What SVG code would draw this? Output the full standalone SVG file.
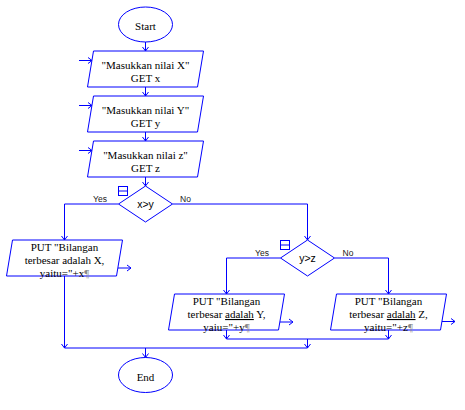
<svg xmlns="http://www.w3.org/2000/svg" width="465" height="410" viewBox="0 0 465 410">
<style>
.sh{fill:#fff;stroke:#0000ff;stroke-width:1}
.ln{fill:none;stroke:#0000ff;stroke-width:1}
.t{font-family:"Liberation Serif","Times New Roman",serif;font-size:11px;fill:#000;text-anchor:middle}
.s{font-family:"Liberation Sans",Arial,sans-serif;font-size:10.5px;fill:#000;text-anchor:middle}
.lb{font-family:"Liberation Sans",Arial,sans-serif;font-size:8.5px;fill:#222;text-anchor:middle}
.pc{fill:#888}
.u{text-decoration:underline}
</style>
<defs>
<marker id="ah" markerUnits="userSpaceOnUse" markerWidth="10" markerHeight="10" refX="0" refY="0" viewBox="-5 -5 10 10" orient="auto" overflow="visible">
<path d="M-4,-3 L0,0 L-4,3" fill="none" stroke="#0000ff" stroke-width="1"/>
</marker>
</defs>
<rect width="465" height="410" fill="#fff"/>
<g id="connectors">
<path class="ln" d="M145.5,42 V51" marker-end="url(#ah)"/>
<path class="ln" d="M145.5,87 V96" marker-end="url(#ah)"/>
<path class="ln" d="M145.5,132 V141" marker-end="url(#ah)"/>
<path class="ln" d="M145.5,177 V186" marker-end="url(#ah)"/>
<path class="ln" d="M118.5,204 H64.5 V240" marker-end="url(#ah)"/>
<path class="ln" d="M172.5,204 H307.5 V240" marker-end="url(#ah)"/>
<path class="ln" d="M280.5,258 H226.5 V294" marker-end="url(#ah)"/>
<path class="ln" d="M334.5,258 H388.5 V294" marker-end="url(#ah)"/>
<path class="ln" d="M64.5,276 V348" marker-end="url(#ah)"/>
<path class="ln" d="M226.5,330 V339" marker-end="url(#ah)"/>
<path class="ln" d="M388.5,330 V339" marker-end="url(#ah)"/>
<path class="ln" d="M226.5,339 H388.5"/>
<path class="ln" d="M307.5,339 V348" marker-end="url(#ah)"/>
<path class="ln" d="M64.5,348 H307.5"/>
<path class="ln" d="M145.5,348 V357.5" marker-end="url(#ah)"/>
<path class="ln" d="M79,60.5 H92" marker-end="url(#ah)"/>
<path class="ln" d="M79,105.5 H92" marker-end="url(#ah)"/>
<path class="ln" d="M79,150.5 H92" marker-end="url(#ah)"/>
<path class="ln" d="M118,268 H131" marker-end="url(#ah)"/>
<path class="ln" d="M280,322 H293" marker-end="url(#ah)"/>
<path class="ln" d="M442,321.5 H455" marker-end="url(#ah)"/>
<text class="lb" x="100" y="202">Yes</text>
<text class="lb" x="185.5" y="202">No</text>
<text class="lb" x="262" y="256">Yes</text>
<text class="lb" x="348" y="256">No</text>
</g>
<g id="start">
<ellipse class="sh" cx="145.5" cy="24.5" rx="27" ry="17.5"/>
<text class="t" x="145.5" y="30">Start</text>
</g>
<g id="inputX">
<polygon class="sh" points="93.5,51 203.5,51 197.5,87 87.5,87"/>
<text class="t" x="145.5" y="69">"Masukkan nilai X"</text>
<text class="t" x="145.5" y="82">GET x</text>
</g>
<g id="inputY">
<polygon class="sh" points="93.5,96 203.5,96 197.5,132 87.5,132"/>
<text class="t" x="145.5" y="114">"Masukkan nilai Y"</text>
<text class="t" x="145.5" y="127">GET y</text>
</g>
<g id="inputZ">
<polygon class="sh" points="93.5,141 203.5,141 197.5,177 87.5,177"/>
<text class="t" x="145.5" y="159">"Masukkan nilai z"</text>
<text class="t" x="145.5" y="172">GET z</text>
</g>
<g id="decisionXY">
<polygon class="sh" points="145.5,186 172.5,204 145.5,222 118.5,204"/>
<text class="s" x="145.5" y="208">x&gt;y</text>
<rect class="ln" x="118.5" y="186.5" width="9" height="9"/>
<path class="ln" d="M118.5,191 H127.5"/>
</g>
<g id="putX">
<polygon class="sh" points="12.5,240 122.5,240 116.5,276 6.5,276"/>
<text class="t" x="64.5" y="251">PUT "Bilangan</text>
<text class="t" x="64.5" y="264">terbesar adalah X,</text>
<text class="t" x="64.5" y="277">yaitu="+x<tspan class="pc">¶</tspan></text>
</g>
<g id="decisionYZ">
<polygon class="sh" points="307.5,240 334.5,258 307.5,276 280.5,258"/>
<text class="s" x="307.5" y="262">y&gt;z</text>
<rect class="ln" x="280.5" y="240.5" width="9" height="9"/>
<path class="ln" d="M280.5,245 H289.5"/>
</g>
<g id="putY">
<polygon class="sh" points="174.5,294 284.5,294 278.5,330 168.5,330"/>
<text class="t" x="226.5" y="305">PUT "Bilangan</text>
<text class="t" x="226.5" y="318">terbesar <tspan class="u">adalah</tspan> Y,</text>
<text class="t" x="226.5" y="331">yaiu="+y<tspan class="pc">¶</tspan></text>
</g>
<g id="putZ">
<polygon class="sh" points="336.5,294 446.5,294 440.5,330 330.5,330"/>
<text class="t" x="388.5" y="305">PUT "Bilangan</text>
<text class="t" x="388.5" y="318">terbesar <tspan class="u">adalah</tspan> Z,</text>
<text class="t" x="388.5" y="331">yaitu="+z<tspan class="pc">¶</tspan></text>
</g>
<g id="end">
<ellipse class="sh" cx="145.5" cy="375" rx="27" ry="17.5"/>
<text class="t" x="145.5" y="381">End</text>
</g>
</svg>
